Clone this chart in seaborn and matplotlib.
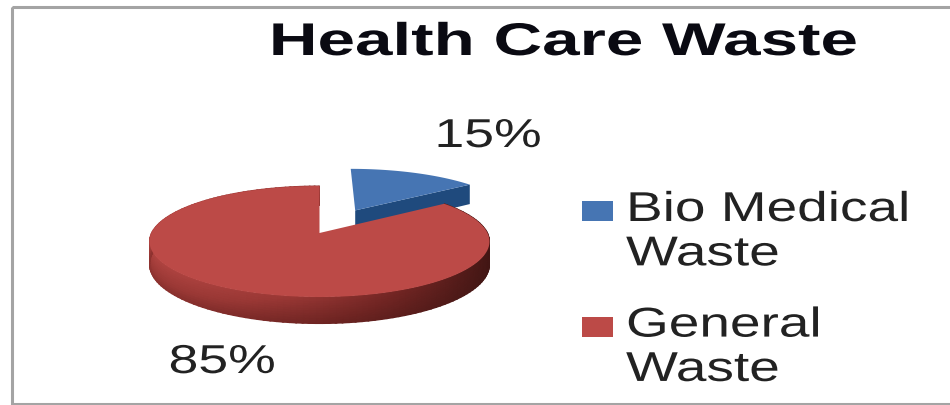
import numpy as np
import matplotlib
matplotlib.use("Agg")
import matplotlib.pyplot as plt
from matplotlib.colors import LinearSegmentedColormap
from matplotlib.legend_handler import HandlerPatch
from matplotlib.patches import Patch, Rectangle
from matplotlib.patheffects import AbstractPathEffect
from matplotlib.transforms import Affine2D
import seaborn as sns

title = "Health Care Waste"
categories = ["Bio Medical\nWaste", "General\nWaste"]
shares = [15, 85]
explode = [0.5, 0.0]

top_colors = ["#4675b3", "#bc4a47"]
wall_colors = ["#1f4a7d", None]

sns.set_theme(style="white")
plt.rcParams["font.family"] = ["Liberation Sans", "DejaVu Sans"]


class WideGlyphs(AbstractPathEffect):
    """Stretch glyph outlines horizontally about a fixed display x."""

    def __init__(self, x0, sx):
        super().__init__()
        self.x0, self.sx = x0, sx

    def draw_path(self, renderer, gc, tpath, affine, rgbFace=None):
        stretch = Affine2D().translate(-self.x0, 0).scale(self.sx, 1).translate(self.x0, 0)
        renderer.draw_path(gc, tpath, affine + stretch, rgbFace)


def raised_swatch(legend, orig_handle, xdescent, ydescent, width, height, fontsize):
    # Swatch sits level with the first line of a two-line label.
    return Rectangle((-xdescent, -ydescent + 17), width, 14.4)


# Perspective of the tilted pie: v runs away from the viewer, z runs down.
CX, CY, FX, FY, K, DEPTH = 319.5, 233.0, 168.0, 54.2, 0.153, 22.5


def project(u, v, z=0.0):
    w = 1 + K * v
    return CX + FX * u / w, CY - FY * v / w + DEPTH * z / w


def slice_outline(theta0, theta1, offset):
    th = np.linspace(theta0, theta1, 160)
    du, dv = offset * np.sin((theta0 + theta1) / 2), offset * np.cos((theta0 + theta1) / 2)
    u = np.r_[0, np.sin(th), 0] + du
    v = np.r_[0, np.cos(th), 0] + dv
    return u, v, th, du, dv


fig = plt.figure(figsize=(9.5, 4.05), dpi=100, facecolor="white")
ax = fig.add_axes([0, 0, 1, 1])
ax.set_xlim(0, 950)
ax.set_ylim(405, 0)
ax.axis("off")

# Panel border; its right side runs off the canvas.
ax.add_patch(Rectangle((12, 7), 960, 396.5, fill=False, ec="#a4a4a4", lw=2.2))

red_wall = LinearSegmentedColormap.from_list("wall", ["#3f1513", "#6e2422", "#9a3835", "#b04441"])

angles = 2 * np.pi * np.cumsum([0] + shares) / sum(shares)

# Bio medical slice: cut face first, then the top.
u, v, th, du, dv = slice_outline(angles[0], angles[1], explode[0])
tip_u, tip_v = np.sin(angles[1]) + du, np.cos(angles[1]) + dv
a = np.array([project(du, dv, 0), project(tip_u, tip_v, 0),
              project(tip_u, tip_v, 1), project(du, dv, 1)])
ax.fill(a[:, 0], a[:, 1], color=wall_colors[0], lw=0)
x, y = project(u, v)
ax.fill(x, y, color=top_colors[0], lw=0)

# General waste slice: shaded rim, then the top face.
u, v, th, du, dv = slice_outline(angles[1], angles[2], explode[1])
zs = np.linspace(0, 1, 12)
T, Z = np.meshgrid(th, zs, indexing="ij")
X, Y = project(np.sin(T) + du, np.cos(T) + dv, Z)
along = np.clip((X - X.min()) / (X.max() - X.min()), 0, 1)
shade = (1 - along) ** 0.8 * (1 - 0.45 * Z) + 0.02
ax.pcolormesh(X, Y, shade, cmap=red_wall, vmin=0, vmax=1, shading="gouraud")
x, y = project(u, v)
ax.fill(x, y, color=top_colors[1], lw=0)

ax.text(563.5, 55, title, ha="center", va="baseline", fontsize=33, fontweight="bold",
        color="#0a0a12", path_effects=[WideGlyphs(563.5, 1.47)])

label_at = [(488, 147), (222, 373)]
for share, (lx, ly) in zip(shares, label_at):
    ax.text(lx, ly, f"{share}%", ha="center", va="baseline", fontsize=29, color="#222222",
            path_effects=[WideGlyphs(lx, 1.33)])

handles = [Patch(color=c, lw=0) for c in top_colors]
legend = ax.legend(handles, categories, loc="upper left", bbox_to_anchor=(582, 190),
                   bbox_transform=ax.transData, frameon=False, fontsize=30,
                   handlelength=0.75, handleheight=0.5, handletextpad=0.3,
                   labelspacing=0.75, borderpad=0, borderaxespad=0,
                   handler_map={Patch: HandlerPatch(patch_func=raised_swatch)})
for t in legend.get_texts():
    t.set_linespacing(1.14)
    t.set_color("#222222")
    t.set_path_effects([WideGlyphs(625, 1.32)])

fig.savefig("out.png", dpi=100, facecolor="white")
